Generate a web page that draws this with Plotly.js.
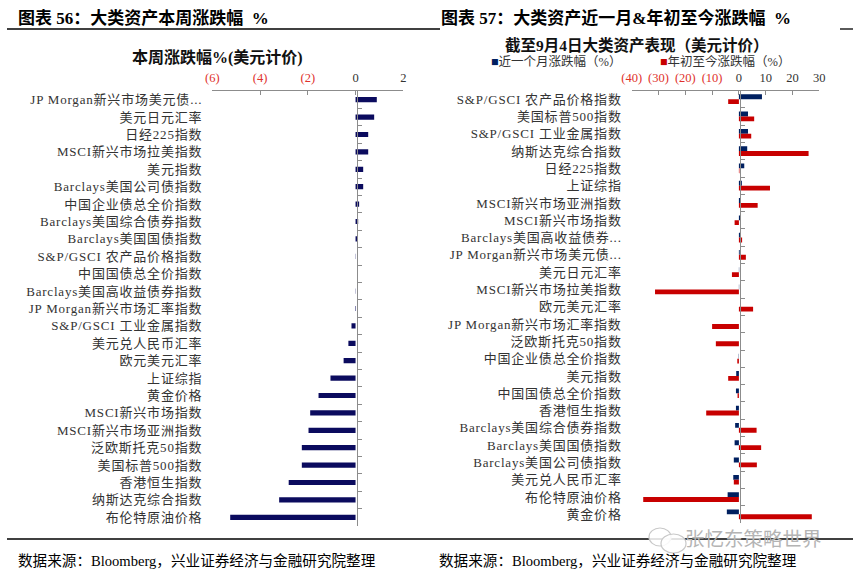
<!DOCTYPE html>
<html>
<head>
<meta charset="utf-8">
<script src="https://cdn.plot.ly/plotly-3.0.1.min.js"></script>
<style>
html,body{margin:0;padding:0;background:#fff;}
#chart{width:863px;height:578px;}
.yaxislayer-above text{letter-spacing:0.8px;}
</style>
</head>
<body>
<div id="chart"></div>
<script>
// ---------- Data ----------
const leftCategories = [
  "JP Morgan新兴市场美元债...", "美元日元汇率", "日经225指数", "MSCI新兴市场拉美指数", "美元指数",
  "Barclays美国公司债指数", "中国企业债总全价指数", "Barclays美国综合债券指数", "Barclays美国国债指数",
  "S&P/GSCI 农产品价格指数", "中国国债总全价指数", "Barclays美国高收益债券指数", "JP Morgan新兴市场汇率指数",
  "S&P/GSCI 工业金属指数", "美元兑人民币汇率", "欧元美元汇率", "上证综指", "黄金价格", "MSCI新兴市场指数",
  "MSCI新兴市场亚洲指数", "泛欧斯托克50指数", "美国标普500指数", "香港恒生指数", "纳斯达克综合指数", "布伦特原油价格"
];
const weeklyChange = [
  0.89, 0.78, 0.53, 0.53, 0.32,
  0.32, 0.15, 0.11, 0.06,
  0.01, 0.00, -0.01, -0.02,
  -0.17, -0.30, -0.50, -1.05, -1.55, -1.90,
  -1.97, -2.25, -2.25, -2.80, -3.20, -5.25
];

const rightCategories = [
  "S&P/GSCI 农产品价格指数", "美国标普500指数", "S&P/GSCI 工业金属指数", "纳斯达克综合指数", "日经225指数",
  "上证综指", "MSCI新兴市场亚洲指数", "MSCI新兴市场指数", "Barclays美国高收益债券...", "JP Morgan新兴市场美元债...",
  "美元日元汇率", "MSCI新兴市场拉美指数", "欧元美元汇率", "JP Morgan新兴市场汇率指数", "泛欧斯托克50指数",
  "中国企业债总全价指数", "美元指数", "中国国债总全价指数", "香港恒生指数", "Barclays美国综合债券指数",
  "Barclays美国国债指数", "Barclays美国公司债指数", "美元兑人民币汇率", "布伦特原油价格", "黄金价格"
];
const monthChange = [
  8.6, 3.4, 3.4, 3.1, 2.0,
  1.1, 0.7, 0.6, 0.4, 0.3,
  0.1, 0.1, 0.0, 0.0, 0.0,
  -0.1, -1.0, -1.1, -1.1, -1.4,
  -1.6, -1.9, -2.1, -4.2, -4.5
];
const ytdChange = [
  -4.0, 5.7, 4.6, 26.0, 0.2,
  11.6, 7.0, -1.6, 1.2, 2.6,
  -2.6, -31.3, 5.3, -10.0, -8.6,
  -0.6, -4.0, -0.5, -12.2, 6.6,
  8.3, 6.7, -1.9, -35.7, 27.2
];
const seriesNames = ["近一个月涨跌幅（%）", "年初至今涨跌幅（%）"];
const leftTickVals = [-6, -4, -2, 0, 2];
const leftTickText = ["(6)", "(4)", "(2)", "0", "2"];
const rightTickVals = [-40, -30, -20, -10, 0, 10, 20, 30];
const rightTickText = ["(40)", "(30)", "(20)", "(10)", "0", "10", "20", "30"];

// ---------- Helpers ----------
const W = 863, H = 578;
const px = x => x / W;
const py = y => 1 - y / H;
const FONT = "Liberation Serif, Noto Sans CJK SC, serif";
const NEG = "#e0312b";
const colorTicks = (vals, txt) => txt.map((t, i) => vals[i] < 0 ? '<span style="color:' + NEG + '">' + t + '</span>' : t);
const BLUE = "#002060", RED = "#c80000", NAVY = "#0b0b5e";

const nL = leftCategories.length, nR = rightCategories.length;

const traces = [
  {type: "bar", orientation: "h", x: weeklyChange, y: leftCategories, xaxis: "x", yaxis: "y",
   marker: {color: NAVY}, width: 0.3, hoverinfo: "x+y", showlegend: false},
  {type: "scatter", mode: "markers", x: leftCategories.map(() => 0), y: leftCategories, xaxis: "x", yaxis: "y3",
   marker: {opacity: 0}, hoverinfo: "skip", showlegend: false},
  {type: "bar", orientation: "h", name: seriesNames[0], x: monthChange, y: rightCategories, xaxis: "x2", yaxis: "y2",
   marker: {color: BLUE}, width: 0.28, offset: -0.28, showlegend: false},
  {type: "bar", orientation: "h", name: seriesNames[1], x: ytdChange, y: rightCategories, xaxis: "x2", yaxis: "y2",
   marker: {color: RED}, width: 0.28, offset: 0, showlegend: false},
  {type: "scatter", mode: "markers", x: rightCategories.map(() => 0), y: rightCategories, xaxis: "x2", yaxis: "y4",
   marker: {opacity: 0}, hoverinfo: "skip", showlegend: false}
];

const xCommon = {
  side: "top", showline: true, linecolor: "#8c8c8c", linewidth: 1, ticks: "inside", ticklen: 4,
  tickcolor: "#8c8c8c", showgrid: false, zeroline: false, fixedrange: true,
  tickfont: {family: FONT, size: 12.5, color: "#333"}, ticklabelstandoff: 3
};
const yLabels = {
  type: "category", showline: false, ticks: "", showgrid: false, zeroline: false, fixedrange: true,
  tickfont: {family: FONT, size: 13, color: "#333"}, ticklabelstandoff: 9
};
const yZero = {
  type: "category", showline: true, linecolor: "#8c8c8c", linewidth: 1.3, ticks: "inside", tickson: "boundaries",
  ticklen: 4, tickcolor: "#8c8c8c", showticklabels: false, showgrid: false, zeroline: false, fixedrange: true
};

const layout = {
  width: W, height: H, margin: {l: 0, r: 0, t: 0, b: 0},
  paper_bgcolor: "#fff", plot_bgcolor: "rgba(0,0,0,0)",
  font: {family: FONT, color: "#222"},
  barmode: "overlay", showlegend: false,
  xaxis: Object.assign({}, xCommon, {domain: [px(212.3), px(403.3)], range: [-6, 2], anchor: "y",
    tickvals: leftTickVals, ticktext: colorTicks(leftTickVals, leftTickText)}),
  yaxis: Object.assign({}, yLabels, {domain: [py(526), py(91)], anchor: "x", range: [nL - 0.5, -0.5]}),
  yaxis3: Object.assign({}, yZero, {overlaying: "y", anchor: "free", position: px(356.6), range: [nL - 0.5, -0.5]}),
  xaxis2: Object.assign({}, xCommon, {domain: [px(631.7), px(819.3)], range: [-40, 30], anchor: "y2",
    tickvals: rightTickVals, ticktext: colorTicks(rightTickVals, rightTickText)}),
  yaxis2: Object.assign({}, yLabels, {domain: [py(523), py(90.5)], anchor: "x2", range: [nR - 0.5, -0.5]}),
  yaxis4: Object.assign({}, yZero, {overlaying: "y2", anchor: "free", position: px(739.7), range: [nR - 0.5, -0.5]}),
  shapes: [
    {type: "line", xref: "paper", yref: "paper", x0: px(7), x1: px(440), y0: py(29), y1: py(29), line: {color: "#000", width: 1.3}},
    {type: "line", xref: "paper", yref: "paper", x0: px(840), x1: px(853), y0: py(29), y1: py(29), line: {color: "#000", width: 1.3}},
    {type: "line", xref: "paper", yref: "paper", x0: px(7), x1: px(853), y0: py(539), y1: py(539), line: {color: "#000", width: 1.3}},
    // watermark icon
    {type: "circle", xref: "paper", yref: "paper", x0: px(649), x1: px(671), y0: py(546), y1: py(528), line: {color: "#c8c8c8", width: 1.2}, fillcolor: "rgba(255,255,255,0.85)"},
    {type: "circle", xref: "paper", yref: "paper", x0: px(661), x1: px(686), y0: py(553), y1: py(534), line: {color: "#c8c8c8", width: 1.2}, fillcolor: "rgba(255,255,255,0.85)"}
  ],
  annotations: [
    {xref: "paper", yref: "paper", x: px(16), y: py(18), xanchor: "left", yanchor: "middle", showarrow: false,
     text: "<b>图表 56：大类资产本周涨跌幅  %</b>", font: {family: FONT, size: 17, color: "#000"}},
    {xref: "paper", yref: "paper", x: px(439), y: py(18), xanchor: "left", yanchor: "middle", showarrow: false,
     text: "<b>图表 57：大类资产近一月&年初至今涨跌幅  %</b>", font: {family: FONT, size: 17, color: "#000"}},
    {xref: "paper", yref: "paper", x: px(217), y: py(58), xanchor: "center", yanchor: "middle", showarrow: false,
     text: "<b>本周涨跌幅%(美元计价)</b>", font: {family: FONT, size: 16, color: "#111"}},
    {xref: "paper", yref: "paper", x: px(637), y: py(45), xanchor: "center", yanchor: "middle", showarrow: false,
     text: "<b>截至9月4日大类资产表现（美元计价）</b>", font: {family: FONT, size: 15.5, color: "#111"}},
    {xref: "paper", yref: "paper", x: px(489), y: py(62), xanchor: "left", yanchor: "middle", showarrow: false,
     text: '<span style="color:' + BLUE + '">■</span>' + seriesNames[0], font: {family: FONT, size: 12.5, color: "#333"}},
    {xref: "paper", yref: "paper", x: px(658), y: py(62), xanchor: "left", yanchor: "middle", showarrow: false,
     text: '<span style="color:' + RED + '">■</span>' + seriesNames[1], font: {family: FONT, size: 12.5, color: "#333"}},
    {xref: "paper", yref: "paper", x: px(16), y: py(561), xanchor: "left", yanchor: "middle", showarrow: false,
     text: "数据来源：Bloomberg，兴业证券经济与金融研究院整理", font: {family: FONT, size: 14.6, color: "#000"}},
    {xref: "paper", yref: "paper", x: px(437), y: py(561), xanchor: "left", yanchor: "middle", showarrow: false,
     text: "数据来源：Bloomberg，兴业证券经济与金融研究院整理", font: {family: FONT, size: 14.6, color: "#000"}},
    {xref: "paper", yref: "paper", x: px(683), y: py(537), xanchor: "left", yanchor: "middle", showarrow: false,
     text: "张忆东策略世界", font: {family: "Noto Sans CJK SC", size: 19.5, color: "#b4b4b4"}}
  ]
};

Plotly.newPlot("chart", traces, layout, {displayModeBar: false, staticPlot: true});
</script>
</body>
</html>
